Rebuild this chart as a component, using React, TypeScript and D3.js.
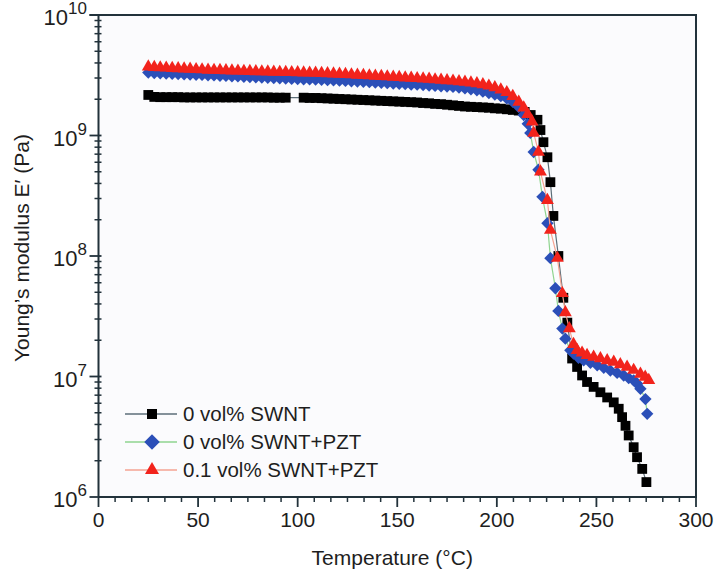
import React from "react";
import * as d3 from "d3";

// temperature (°C), storage modulus E' (Pa)
const swnt: [number, number][] = [
  [25, 2.17e9], [28, 2.09e9], [31, 2.08e9], [34, 2.08e9], [37, 2.08e9], [40, 2.08e9],
  [43, 2.07e9], [46, 2.07e9], [49, 2.07e9], [52, 2.07e9], [55, 2.07e9], [58, 2.07e9],
  [61, 2.07e9], [64, 2.07e9], [67, 2.07e9], [70, 2.07e9], [73, 2.07e9], [76, 2.07e9],
  [79, 2.07e9], [82, 2.07e9], [85, 2.07e9], [88, 2.06e9], [91, 2.06e9], [94, 2.06e9],
  [103, 2.06e9], [106, 2.05e9], [109, 2.05e9], [112, 2.04e9], [115, 2.03e9], [118, 2.02e9],
  [121, 2.01e9], [124, 2.0e9], [127, 1.99e9], [130, 1.98e9], [133, 1.97e9], [136, 1.96e9],
  [139, 1.95e9], [142, 1.94e9], [145, 1.93e9], [148, 1.92e9], [151, 1.91e9], [154, 1.9e9],
  [157, 1.89e9], [160, 1.88e9], [163, 1.86e9], [166, 1.85e9], [169, 1.83e9], [172, 1.82e9],
  [175, 1.8e9], [178, 1.78e9], [181, 1.76e9], [184, 1.74e9], [187, 1.73e9], [190, 1.72e9],
  [193, 1.71e9], [196, 1.7e9], [199, 1.68e9], [202, 1.67e9], [205, 1.65e9], [208, 1.63e9],
  [211, 1.61e9], [214, 1.57e9], [217, 1.48e9], [220.4, 1.35e9], [221.9, 1.11e9], [223.4, 8.8e8],
  [225.4, 6.6e8], [226.9, 4.1e8], [228.4, 2.15e8], [230.9, 1.0e8], [233.4, 4.5e7], [235.4, 2.8e7],
  [237.8, 1.41e7], [240.3, 1.2e7], [242.8, 1.02e7], [245.3, 9.0e6], [248.6, 8.2e6], [252, 7.4e6],
  [255.4, 6.7e6], [258.7, 6.1e6], [261.2, 5.4e6], [262.9, 4.6e6], [264.6, 3.9e6], [266.2, 3.24e6],
  [268.7, 2.59e6], [270.4, 2.14e6], [273, 1.71e6], [275.1, 1.33e6],
];

const swntPzt: [number, number][] = [
  [25, 3.33e9], [28, 3.3e9], [31, 3.28e9], [34, 3.27e9], [37, 3.25e9], [40, 3.24e9],
  [43, 3.22e9], [46, 3.21e9], [49, 3.19e9], [52, 3.18e9], [55, 3.16e9], [58, 3.15e9],
  [61, 3.13e9], [64, 3.12e9], [67, 3.1e9], [70, 3.09e9], [73, 3.07e9], [76, 3.06e9],
  [79, 3.04e9], [82, 3.03e9], [85, 3.01e9], [88, 3.0e9], [91, 2.98e9], [94, 2.97e9],
  [97, 2.95e9], [100, 2.94e9], [103, 2.93e9], [106, 2.92e9], [109, 2.91e9], [112, 2.9e9],
  [115, 2.88e9], [118, 2.87e9], [121, 2.85e9], [124, 2.84e9], [127, 2.82e9], [130, 2.8e9],
  [133, 2.79e9], [136, 2.77e9], [139, 2.75e9], [142, 2.74e9], [145, 2.72e9], [148, 2.7e9],
  [151, 2.69e9], [154, 2.67e9], [157, 2.65e9], [160, 2.64e9], [163, 2.62e9], [166, 2.6e9],
  [169, 2.58e9], [172, 2.56e9], [175, 2.55e9], [178, 2.53e9], [181, 2.5e9], [184, 2.46e9],
  [187, 2.42e9], [190, 2.37e9], [193, 2.31e9], [196, 2.25e9], [199, 2.19e9], [202, 2.12e9],
  [205, 2.03e9], [208, 1.9e9], [211, 1.72e9], [213.5, 1.48e9], [215.5, 1.25e9], [216.8, 1.05e9],
  [218.5, 7.3e8], [220.9, 5.2e8], [222.9, 3.1e8], [225.4, 1.87e8], [226.9, 9.6e7], [229.4, 5.4e7],
  [230.9, 3.5e7], [232.9, 2.5e7], [234.4, 2.06e7], [236.9, 1.65e7], [238.5, 1.55e7], [241, 1.43e7],
  [243.6, 1.36e7], [247, 1.3e7], [250.4, 1.24e7], [253.7, 1.18e7], [257, 1.12e7], [260.4, 1.07e7],
  [263.7, 1.02e7], [266.2, 9.7e6], [268.7, 9.3e6], [270.5, 8.7e6], [272.1, 7.9e6], [274.6, 6.5e6],
  [275.5, 4.9e6],
];

const swntPzt01: [number, number][] = [
  [25, 3.72e9], [28, 3.68e9], [31, 3.66e9], [34, 3.64e9], [37, 3.62e9], [40, 3.6e9],
  [43, 3.58e9], [46, 3.56e9], [49, 3.54e9], [52, 3.52e9], [55, 3.5e9], [58, 3.49e9],
  [61, 3.48e9], [64, 3.46e9], [67, 3.45e9], [70, 3.44e9], [73, 3.42e9], [76, 3.41e9],
  [79, 3.4e9], [82, 3.39e9], [85, 3.38e9], [88, 3.37e9], [91, 3.36e9], [94, 3.35e9],
  [97, 3.34e9], [100, 3.33e9], [103, 3.32e9], [106, 3.31e9], [109, 3.3e9], [112, 3.29e9],
  [115, 3.27e9], [118, 3.26e9], [121, 3.24e9], [124, 3.22e9], [127, 3.2e9], [130, 3.18e9],
  [133, 3.16e9], [136, 3.14e9], [139, 3.12e9], [142, 3.1e9], [145, 3.08e9], [148, 3.06e9],
  [151, 3.04e9], [154, 3.02e9], [157, 3.0e9], [160, 2.98e9], [163, 2.96e9], [166, 2.94e9],
  [169, 2.91e9], [172, 2.89e9], [175, 2.86e9], [178, 2.84e9], [181, 2.81e9], [184, 2.78e9],
  [187, 2.74e9], [190, 2.7e9], [193, 2.65e9], [196, 2.58e9], [199, 2.5e9], [202, 2.4e9],
  [205, 2.28e9], [208, 2.12e9], [211, 1.9e9], [213.5, 1.7e9], [215.5, 1.5e9], [217.7, 1.3e9],
  [218.5, 1.05e9], [220.9, 7.3e8], [221.9, 5.0e8], [225.4, 2.9e8], [226.9, 1.64e8], [230.4, 9.6e7],
  [232.9, 4.9e7], [234.4, 3.4e7], [236.4, 2.5e7], [238.5, 1.85e7], [240.3, 1.65e7], [242.8, 1.57e7],
  [245.3, 1.5e7], [248.6, 1.45e7], [252, 1.41e7], [255.4, 1.36e7], [258.7, 1.32e7], [262, 1.26e7],
  [265.4, 1.2e7], [268.7, 1.13e7], [272.1, 1.05e7], [274.5, 9.9e6], [276.3, 9.3e6],
];

const seriesNames = ["0 vol% SWNT", "0 vol% SWNT+PZT", "0.1 vol% SWNT+PZT"];
const xTicks = [0, 50, 100, 150, 200, 250, 300];
const yExponents = [6, 7, 8, 9, 10];

const W = 714;
const H = 574;
const FONT = "'Liberation Sans', Arial, Helvetica, sans-serif";
const AXIS = "#22323b";

const x = d3.scaleLinear().domain([0, 300]).range([98.5, 696]);
const y = d3.scaleLog().domain([1e6, 1e10]).range([497, 15]);

const styles = [
  { fill: "#000000", line: "#5d6e78", shape: "square" },
  { fill: "#2b4fb8", line: "#8fd48f", shape: "diamond" },
  { fill: "#f2231c", line: "#f5a392", shape: "triangle" },
];

function markerPath(shape: string, big: boolean) {
  if (shape === "square") return d3.symbol(d3.symbolSquare, big ? 100 : 96)()!;
  if (shape === "diamond") return d3.symbol(d3.symbolSquare, big ? 120 : 76)()!;
  return d3.symbol(d3.symbolTriangle, big ? 85 : 72)()!;
}

export default function App() {
  const allSeries = [swnt, swntPzt, swntPzt01];
  const line = d3
    .line<[number, number]>()
    .x((d) => x(d[0]))
    .y((d) => y(d[1]));

  const minorX = d3.range(0, 300, 50 / 6).filter((v) => Math.abs(v % 50) > 0.01 && Math.abs((v % 50) - 50) > 0.01);
  const minorY: number[] = [];
  yExponents.slice(0, -1).forEach((e) => {
    for (let k = 2; k <= 9; k++) minorY.push(k * Math.pow(10, e));
  });

  const x0 = x(0);
  const y0 = y(1e6);
  const x1 = x(300);
  const y1 = y(1e10);

  const legendY = [414, 442, 470];

  return (
    <svg
      width={W}
      height={H}
      style={{ position: "absolute", left: 0, top: 0, background: "#fff" }}
      fontFamily={FONT}
    >
      <rect x={x0} y={y1} width={x1 - x0} height={y0 - y1} fill="#fbfbfd" />

      {/* series */}
      {allSeries.map((s, i) => (
        <g key={i}>
          <path d={line(s)!} fill="none" stroke={styles[i].line} strokeWidth={1.2} />
          {s.map((d, j) => (
            <path
              key={j}
              d={markerPath(styles[i].shape, false)}
              transform={`translate(${x(d[0])},${y(d[1])})${styles[i].shape === "diamond" ? " rotate(45)" : ""}`}
              fill={styles[i].fill}
            />
          ))}
        </g>
      ))}

      {/* frame */}
      <line x1={x0 - 9} x2={x1 + 1} y1={y1} y2={y1} stroke={AXIS} strokeWidth={2} />
      <line x1={x1} x2={x1} y1={y1} y2={y0} stroke={AXIS} strokeWidth={2} />
      <line x1={x0} x2={x0} y1={y1} y2={y0} stroke={AXIS} strokeWidth={2} />
      <line x1={x0} x2={x1 + 1} y1={y0} y2={y0} stroke={AXIS} strokeWidth={2} />

      {/* x ticks */}
      {minorX.map((v) => (
        <line key={"mx" + v} x1={x(v)} x2={x(v)} y1={y0} y2={y0 + 5} stroke={AXIS} strokeWidth={1.5} />
      ))}
      {xTicks.map((v) => (
        <g key={"x" + v}>
          <line x1={x(v)} x2={x(v)} y1={y0} y2={y0 + 10} stroke={AXIS} strokeWidth={1.8} />
          <text x={x(v)} y={527} textAnchor="middle" fontSize={21} fill="#1e1e1e">
            {v}
          </text>
        </g>
      ))}

      {/* y ticks */}
      {minorY.map((v) => (
        <line key={"my" + v} x1={x0 - 4} x2={x0 + 3} y1={y(v)} y2={y(v)} stroke={AXIS} strokeWidth={1.5} />
      ))}
      {yExponents.map((e) => {
        const yy = y(Math.pow(10, e));
        return (
          <g key={"y" + e}>
            <line x1={x0 - 9} x2={x0 + 3} y1={yy} y2={yy} stroke={AXIS} strokeWidth={1.8} />
            <text x={87} y={yy + 10} textAnchor="end" fontSize={22} fill="#1e1e1e">
              10
              <tspan fontSize={17} dy={-11}>
                {e}
              </tspan>
            </text>
          </g>
        );
      })}

      {/* axis titles */}
      <text x={(x0 + x1) / 2 - 5} y={565} textAnchor="middle" fontSize={21} fill="#1e1e1e">
        Temperature (°C)
      </text>
      <text
        transform={`translate(29,${248}) rotate(-90)`}
        textAnchor="middle"
        fontSize={21}
        fill="#1e1e1e"
      >
        Young’s modulus E′ (Pa)
      </text>

      {/* legend */}
      {seriesNames.map((name, i) => (
        <g key={name}>
          <line x1={125} x2={177} y1={legendY[i]} y2={legendY[i]} stroke={styles[i].line} strokeWidth={1.5} />
          <path
            d={markerPath(styles[i].shape, true)}
            transform={`translate(152,${legendY[i]})${styles[i].shape === "diamond" ? " rotate(45)" : ""}`}
            fill={styles[i].fill}
          />
          <text x={183} y={legendY[i] + 7} fontSize={20.5} fill="#1e1e1e">
            {name}
          </text>
        </g>
      ))}
    </svg>
  );
}
